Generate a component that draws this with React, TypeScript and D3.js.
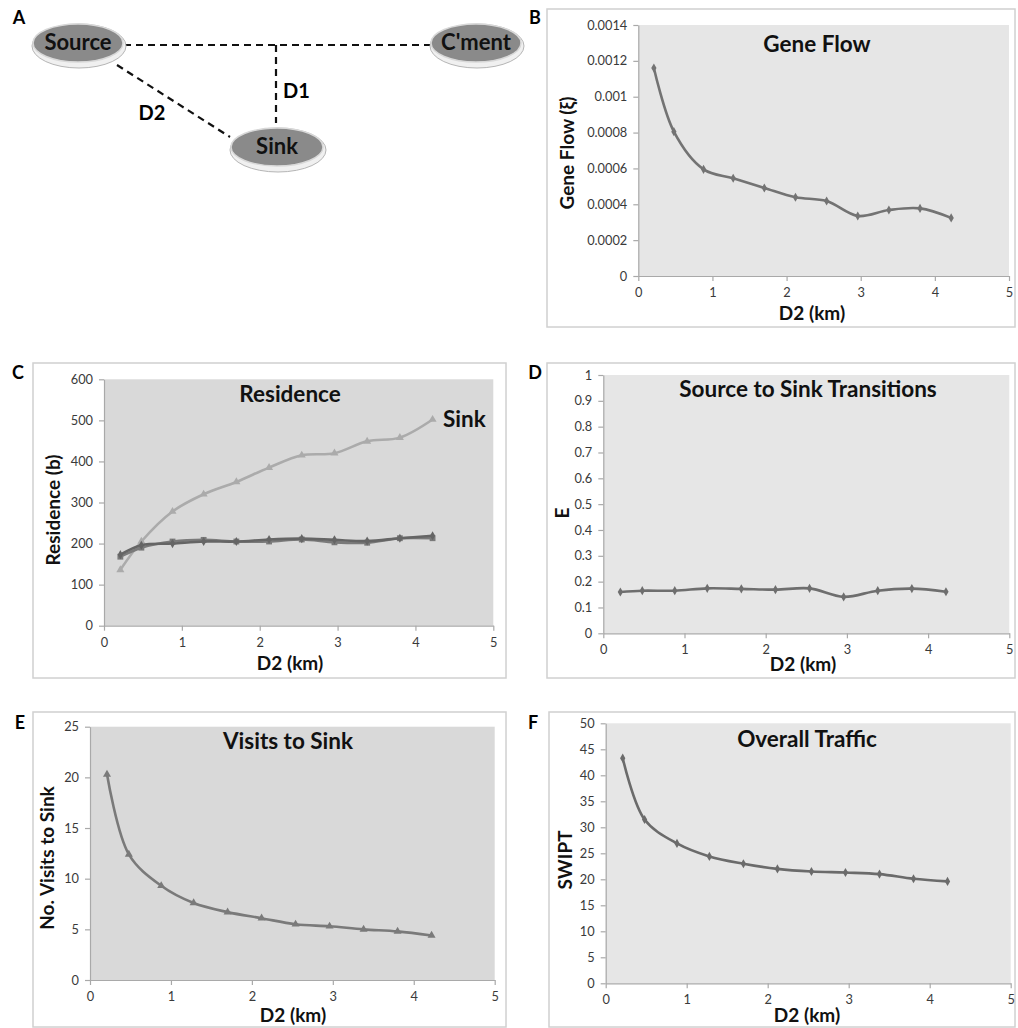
import React, { useEffect, useRef } from "react";
import * as d3 from "d3";

// ---------- data ----------
const distanceKm = [0.21, 0.48, 0.88, 1.28, 1.7, 2.12, 2.54, 2.96, 3.38, 3.8, 4.22];
const geneFlow = [0.00116, 0.000805, 0.000595, 0.000545, 0.000491, 0.000439, 0.000418, 0.000335, 0.000368, 0.000377, 0.000324];
const residenceSink = [136, 205, 278, 320, 350, 385, 415, 420, 449, 458, 502];
const residenceSource = [173, 196, 200, 205, 205, 210, 212, 209, 206, 213, 219];
const residenceCment = [168, 190, 205, 209, 205, 205, 210, 203, 202, 213, 213];
const transitions = [0.16, 0.165, 0.165, 0.174, 0.172, 0.169, 0.174, 0.141, 0.165, 0.173, 0.161];
const visitsToSink = [20.3, 12.4, 9.3, 7.6, 6.7, 6.1, 5.5, 5.3, 5.0, 4.8, 4.4];
const swipt = [43.3, 31.5, 26.9, 24.4, 23.0, 22.0, 21.5, 21.3, 21.0, 20.1, 19.6];

const xTicks = [0, 1, 2, 3, 4, 5];
const geneFlowTicks = [0, 0.0002, 0.0004, 0.0006, 0.0008, 0.001, 0.0012, 0.0014];
const residenceTicks = [0, 100, 200, 300, 400, 500, 600];
const transitionTicks = [0, 0.1, 0.2, 0.3, 0.4, 0.5, 0.6, 0.7, 0.8, 0.9, 1];
const visitsTicks = [0, 5, 10, 15, 20, 25];
const swiptTicks = [0, 5, 10, 15, 20, 25, 30, 35, 40, 45, 50];

const FONT = "Lato, 'Open Sans', sans-serif";

type Series = { values: number[]; color: string; marker: string; width?: number };
type PanelCfg = {
  letter: string;
  letterPos: [number, number];
  frame: [number, number, number, number];
  plot: [number, number, number, number];
  bg: string;
  yTicks: number[];
  yFmt: (v: number) => string;
  title: string;
  titlePos: [number, number];
  xTitlePos: [number, number];
  yTitle: string;
  yTitlePos: [number, number];
  series: Series[];
  extraLabel?: { text: string; x: number; y: number };
};

const fmtPlain = (v: number) => String(+v.toFixed(6));

const panels: PanelCfg[] = [
  {
    letter: "B", letterPos: [535, 24],
    frame: [547, 9, 1015, 327], plot: [638.3, 25, 1009, 276], bg: "#e6e6e6",
    yTicks: geneFlowTicks, yFmt: fmtPlain,
    title: "Gene Flow", titlePos: [817, 52],
    xTitlePos: [812, 320], yTitle: "Gene Flow (ξ)", yTitlePos: [574, 153],
    series: [{ values: geneFlow, color: "#737373", marker: "diamond" }],
  },
  {
    letter: "C", letterPos: [18, 379],
    frame: [33, 363, 506, 678], plot: [104, 379.3, 493.3, 625.7], bg: "#d9d9d9",
    yTicks: residenceTicks, yFmt: fmtPlain,
    title: "Residence", titlePos: [290, 402],
    xTitlePos: [290, 670], yTitle: "Residence (b)", yTitlePos: [60, 510],
    series: [
      { values: residenceSink, color: "#ababab", marker: "triangle" },
      { values: residenceCment, color: "#7a7a7a", marker: "square" },
      { values: residenceSource, color: "#656565", marker: "diamond" },
    ],
    extraLabel: { text: "Sink", x: 443, y: 427 },
  },
  {
    letter: "D", letterPos: [535, 379],
    frame: [547, 363, 1015, 678], plot: [603.3, 375, 1009.3, 633.3], bg: "#e6e6e6",
    yTicks: transitionTicks, yFmt: fmtPlain,
    title: "Source to Sink Transitions", titlePos: [808, 397],
    xTitlePos: [803, 671], yTitle: "E", yTitlePos: [569, 513],
    series: [{ values: transitions, color: "#6e6e6e", marker: "diamond" }],
  },
  {
    letter: "E", letterPos: [20, 729],
    frame: [33, 712, 506, 1027], plot: [90, 726.7, 494.7, 980], bg: "#d9d9d9",
    yTicks: visitsTicks, yFmt: fmtPlain,
    title: "Visits to Sink", titlePos: [288, 749],
    xTitlePos: [293, 1022], yTitle: "No. Visits to Sink", yTitlePos: [54, 858],
    series: [{ values: visitsToSink, color: "#7a7a7a", marker: "triangle" }],
  },
  {
    letter: "F", letterPos: [533, 729],
    frame: [549, 712, 1015, 1027], plot: [605.7, 723.3, 1010.7, 983.3], bg: "#e6e6e6",
    yTicks: swiptTicks, yFmt: fmtPlain,
    title: "Overall Traffic", titlePos: [807, 747],
    xTitlePos: [807, 1022], yTitle: "SWIPT", yTitlePos: [572, 860],
    series: [{ values: swipt, color: "#6b6b6b", marker: "diamond" }],
  },
];

function markerPath(kind: string, size: number) {
  const sym = kind === "triangle" ? d3.symbolTriangle : kind === "square" ? d3.symbolSquare : d3.symbolDiamond;
  return d3.symbol().type(sym).size(size)() as string;
}

export default function App() {
  const ref = useRef<SVGSVGElement | null>(null);

  useEffect(() => {
    const svg = d3.select(ref.current);
    svg.selectAll("*").remove();

    // ---------- Panel A: schematic ----------
    const gA = svg.append("g");
    gA.append("text").attr("x", 19).attr("y", 24).attr("text-anchor", "middle")
      .attr("font-family", FONT).attr("font-weight", 700).attr("font-size", 18).text("A");

    const dash = "7,5";
    const lineStyle = (sel: any) => sel.attr("stroke", "#111").attr("stroke-width", 2.2).attr("stroke-dasharray", dash).attr("fill", "none");
    gA.append("line").attr("x1", 124).attr("y1", 45).attr("x2", 431).attr("y2", 45).call(lineStyle);
    gA.append("line").attr("x1", 276).attr("y1", 45).attr("x2", 276).attr("y2", 123).call(lineStyle);
    gA.append("line").attr("x1", 117).attr("y1", 65).attr("x2", 230).attr("y2", 137).call(lineStyle);

    const nodes = [
      { name: "Source", cx: 78, cy: 43, rx: 45, ry: 19 },
      { name: "C'ment", cx: 476, cy: 43, rx: 45, ry: 19 },
      { name: "Sink", cx: 277, cy: 147, rx: 46, ry: 19 },
    ];
    nodes.forEach((n) => {
      gA.append("ellipse").attr("cx", n.cx + 1).attr("cy", n.cy + 3).attr("rx", n.rx + 2).attr("ry", n.ry + 3)
        .attr("fill", "#f0f0f0").attr("stroke", "#b5b5b5").attr("stroke-width", 1);
      gA.append("ellipse").attr("cx", n.cx).attr("cy", n.cy).attr("rx", n.rx).attr("ry", n.ry)
        .attr("fill", "#8a8a8a").attr("stroke", "#d8d8d8").attr("stroke-width", 1.5);
      gA.append("text").attr("x", n.cx).attr("y", n.cy + 7).attr("text-anchor", "middle")
        .attr("font-family", FONT).attr("font-weight", 700).attr("font-size", 22).attr("fill", "#111").text(n.name);
    });
    gA.append("text").attr("x", 283).attr("y", 98).attr("font-family", FONT).attr("font-weight", 700)
      .attr("font-size", 20).text("D1");
    gA.append("text").attr("x", 152).attr("y", 120).attr("text-anchor", "middle").attr("font-family", FONT)
      .attr("font-weight", 700).attr("font-size", 20).text("D2");

    // ---------- Chart panels ----------
    panels.forEach((p) => {
      const g = svg.append("g");
      const [fx0, fy0, fx1, fy1] = p.frame;
      const [px0, py0, px1, py1] = p.plot;

      g.append("rect").attr("x", fx0).attr("y", fy0).attr("width", fx1 - fx0).attr("height", fy1 - fy0)
        .attr("fill", "#fff").attr("stroke", "#d0d0d0").attr("stroke-width", 1.5);
      g.append("text").attr("x", p.letterPos[0]).attr("y", p.letterPos[1]).attr("text-anchor", "middle")
        .attr("font-family", FONT).attr("font-weight", 700).attr("font-size", 18).text(p.letter);

      g.append("rect").attr("x", px0).attr("y", py0).attr("width", px1 - px0).attr("height", py1 - py0)
        .attr("fill", p.bg);

      const x = d3.scaleLinear().domain([0, 5]).range([px0, px1]);
      const y = d3.scaleLinear().domain([0, p.yTicks[p.yTicks.length - 1]]).range([py1, py0]);

      const yAxis = d3.axisLeft(y).tickValues(p.yTicks).tickFormat((v: any) => p.yFmt(v)).tickSizeInner(5).tickSizeOuter(0).tickPadding(6);
      const xAxis = d3.axisBottom(x).tickValues(xTicks).tickFormat((v: any) => String(v)).tickSizeInner(5).tickSizeOuter(0).tickPadding(7);

      const ya = g.append("g").attr("transform", `translate(${px0},0)`).call(yAxis);
      const xa = g.append("g").attr("transform", `translate(0,${py1})`).call(xAxis);
      [ya, xa].forEach((a) => {
        a.select(".domain").attr("stroke", "#a9a9a9").attr("stroke-width", 1.2);
        a.selectAll(".tick line").attr("stroke", "#a9a9a9").attr("stroke-width", 1.2);
        a.selectAll(".tick text").attr("font-family", FONT).attr("font-size", 12.8).attr("fill", "#3a3a3a");
      });

      // titles
      g.append("text").attr("x", p.titlePos[0]).attr("y", p.titlePos[1]).attr("text-anchor", "middle")
        .attr("font-family", FONT).attr("font-weight", 700).attr("font-size", 22.5).attr("fill", "#111").text(p.title);
      g.append("text").attr("x", p.xTitlePos[0]).attr("y", p.xTitlePos[1]).attr("text-anchor", "middle")
        .attr("font-family", FONT).attr("font-weight", 700).attr("font-size", 19).attr("fill", "#111").text("D2 (km)");
      g.append("text").attr("transform", `translate(${p.yTitlePos[0]},${p.yTitlePos[1]}) rotate(-90)`)
        .attr("text-anchor", "middle").attr("font-family", FONT).attr("font-weight", 700).attr("font-size", 19)
        .attr("fill", "#111").text(p.yTitle);
      if (p.extraLabel) {
        g.append("text").attr("x", p.extraLabel.x).attr("y", p.extraLabel.y).attr("font-family", FONT)
          .attr("font-weight", 700).attr("font-size", 22.5).attr("fill", "#111").text(p.extraLabel.text);
      }

      const line = d3.line<number>().x((_, i) => x(distanceKm[i])).y((v) => y(v)).curve(d3.curveCatmullRom.alpha(0.5));
      p.series.forEach((s) => {
        g.append("path").attr("d", line(s.values) as string).attr("fill", "none")
          .attr("stroke", s.color).attr("stroke-width", s.width ?? 2.6).attr("stroke-linejoin", "round");
        const size = s.marker === "square" ? 34 : s.marker === "triangle" ? 28 : 24;
        g.append("g").selectAll("path").data(s.values).join("path")
          .attr("d", markerPath(s.marker, size))
          .attr("transform", (v, i) => `translate(${x(distanceKm[i])},${y(v)})`)
          .attr("fill", s.color);
      });
    });
  }, []);

  return (
    <svg ref={ref} width={1018} height={1028}
      style={{ position: "absolute", left: 0, top: 0, background: "#fff", display: "block" }} />
  );
}
